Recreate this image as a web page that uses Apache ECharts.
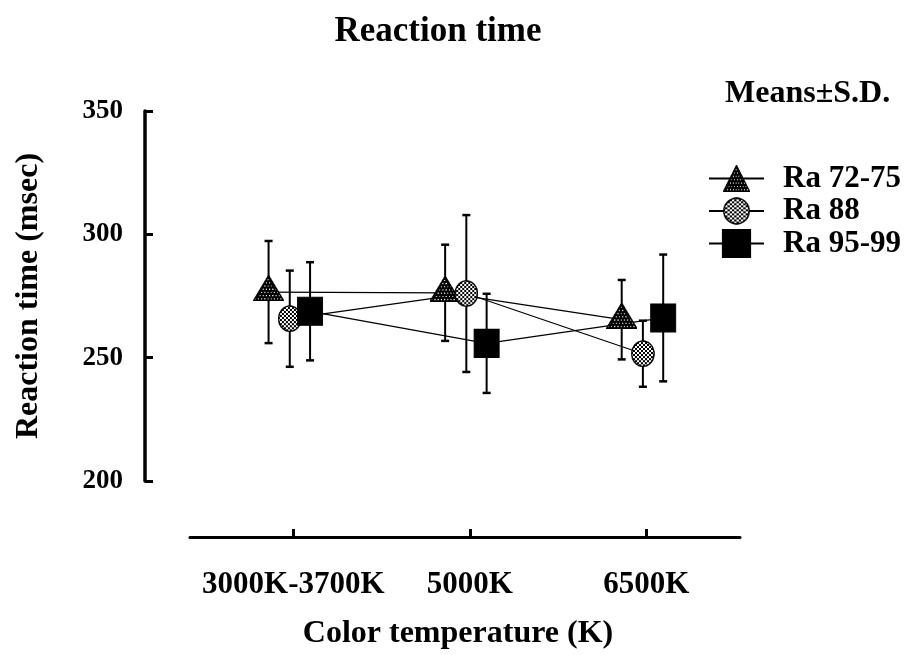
<!DOCTYPE html>
<html>
<head>
<meta charset="utf-8">
<script src="https://cdn.jsdelivr.net/npm/echarts@6/dist/echarts.min.js"></script>
<style>
  html, body { margin: 0; padding: 0; background: #fff; }
  #chart { width: 910px; height: 655px; }
</style>
</head>
<body>
<div id="chart"></div>
<script>
// Colour temperature conditions (x categories)
const categories = ['3000K-3700K', '5000K', '6500K'];
// Reaction time axis ticks (msec)
const yTicks = [200, 250, 300, 350];

// Ra 72-75: means and standard deviations (msec)
const ra72Mean = [276.6, 276.3, 265.4];
const ra72SD   = [20.7, 19.5, 16.1];
// Ra 88
const ra88Mean = [265.8, 276.0, 251.6];
const ra88SD   = [19.5, 31.8, 13.4];
// Ra 95-99
const ra95Mean = [268.8, 255.8, 266.1];
const ra95SD   = [19.9, 20.1, 25.7];

const seriesNames = ['Ra 72-75', 'Ra 88', 'Ra 95-99'];

const SERIF = '"Liberation Serif", "Times New Roman", serif';

// Marker images drawn at pixel size, so the dot screens keep their fine grain
function markerImage(kind, w, h) {
  const s = 3; // supersample for smooth edges
  const c = document.createElement('canvas');
  c.width = w * s; c.height = h * s;
  const g = c.getContext('2d');
  g.scale(s, s);
  const path = () => {
    g.beginPath();
    if (kind === 'triangle') {
      g.moveTo(w / 2, 0.5); g.lineTo(w - 0.5, h - 0.5); g.lineTo(0.5, h - 0.5); g.closePath();
    } else {
      g.ellipse(w / 2, h / 2, w / 2 - 0.8, h / 2 - 0.8, 0, 0, Math.PI * 2);
    }
  };
  g.save();
  path();
  g.clip();
  if (kind === 'triangle') {
    g.fillStyle = '#000'; g.fillRect(0, 0, w, h);
    g.fillStyle = '#fff';
    for (let y = 4; y < h - 1; y += 3.2) {
      for (let x = ((Math.round(y / 3.2) % 2) ? 1.6 : 0); x < w; x += 3.2) g.fillRect(x, y, 1.1, 1.1);
    }
  } else {
    g.fillStyle = '#fff'; g.fillRect(0, 0, w, h);
    g.fillStyle = '#000';
    for (let y = 0; y < h; y += 2) {
      for (let x = (Math.round(y / 2) % 2) ? 2 : 0; x < w; x += 4) g.fillRect(x, y, 2, 2);
    }
  }
  g.restore();
  path();
  g.lineWidth = 1.4; g.strokeStyle = '#000'; g.stroke();
  return 'image://' + c.toDataURL();
}

// Horizontal shift of each group within a category, so the markers don't overlap
const groupShift = [-0.14, -0.02, 0.095];

const groups = [
  { name: seriesNames[0], mean: ra72Mean, sd: ra72SD, symbol: markerImage('triangle', 31, 26), size: [31, 26], offset: [0, -4] },
  { name: seriesNames[1], mean: ra88Mean, sd: ra88SD, symbol: markerImage('circle', 24, 27), size: [24, 27], offset: [0, 0] },
  { name: seriesNames[2], mean: ra95Mean, sd: ra95SD, symbol: 'rect', size: [25, 28], offset: [0, 0] }
];

function errorBars(g, shift) {
  return {
    type: 'custom',
    z: 2,
    silent: true,
    data: g.mean.map((m, i) => [i + shift, m - g.sd[i], m + g.sd[i]]),
    encode: { x: 0, y: [1, 2] },
    renderItem(params, api) {
      const x = api.value(0);
      const lo = api.coord([x, api.value(1)]);
      const hi = api.coord([x, api.value(2)]);
      const w = 4;
      return {
        type: 'group',
        children: [
          { type: 'line', shape: { x1: lo[0], y1: lo[1], x2: hi[0], y2: hi[1] }, style: { stroke: '#000', lineWidth: 2 } },
          { type: 'line', shape: { x1: lo[0] - w, y1: lo[1], x2: lo[0] + w, y2: lo[1] }, style: { stroke: '#000', lineWidth: 2.5 } },
          { type: 'line', shape: { x1: hi[0] - w, y1: hi[1], x2: hi[0] + w, y2: hi[1] }, style: { stroke: '#000', lineWidth: 2.5 } }
        ]
      };
    }
  };
}

const series = [];
groups.forEach((g, k) => {
  series.push(errorBars(g, groupShift[k]));
  series.push({
    type: 'line',
    name: g.name,
    z: 3,
    data: g.mean.map((m, i) => [i + groupShift[k], m]),
    symbol: g.symbol,
    symbolSize: g.size,
    symbolOffset: g.offset,
    showAllSymbol: true,
    lineStyle: { color: '#000', width: 1.2 },
    itemStyle: { color: '#000', borderColor: '#000', borderWidth: 1 },
    emphasis: { disabled: true },
    animation: false
  });
});

const chart = echarts.init(document.getElementById('chart'), null, { renderer: 'canvas' });
chart.setOption({
  animation: false,
  backgroundColor: '#fff',
  title: {
    text: 'Reaction time',
    left: 433,
    textAlign: 'center',
    top: 9,
    textStyle: { fontFamily: SERIF, fontWeight: 'bold', fontSize: 35, color: '#000' }
  },
  grid: { left: 190, right: 170, top: 111, bottom: 171.7, containLabel: false },
  xAxis: {
    type: 'value',
    min: -0.585,
    max: 2.53,
    offset: 56,
    name: 'Color temperature (K)',
    nameLocation: 'middle',
    nameGap: 81,
    nameTextStyle: { fontFamily: SERIF, fontWeight: 'bold', fontSize: 32, color: '#000', padding: [0, 14, 0, 0] },
    axisLine: { show: true, onZero: false, lineStyle: { color: '#000', width: 3 } },
    axisTick: { show: true, inside: true, length: 8, lineStyle: { color: '#000', width: 3 }, customValues: [0, 1, 2] },
    axisLabel: {
      customValues: [0, 1, 2],
      margin: 32,
      formatter: v => categories[Math.round(v)],
      fontFamily: SERIF, fontWeight: 'bold', fontSize: 31, color: '#000'
    },
    splitLine: { show: false }
  },
  yAxis: {
    type: 'value',
    min: yTicks[0],
    max: yTicks[yTicks.length - 1],
    interval: yTicks[1] - yTicks[0],
    offset: 45,
    name: 'Reaction time (msec)',
    nameLocation: 'middle',
    nameGap: 100,
    nameTextStyle: { fontFamily: SERIF, fontWeight: 'bold', fontSize: 32, color: '#000' },
    axisLine: { show: true, onZero: false, lineStyle: { color: '#000', width: 3.5 } },
    axisTick: { show: true, inside: true, length: 8, lineStyle: { color: '#000', width: 3 } },
    axisLabel: { margin: 22, fontFamily: SERIF, fontWeight: 'bold', fontSize: 27, color: '#000' },
    splitLine: { show: false }
  },
  legend: {
    data: seriesNames,
    orient: 'vertical',
    left: 708,
    top: 163,
    padding: 0,
    itemWidth: 55,
    itemHeight: 34,
    itemGap: 1.5,
    selectedMode: false,
    textStyle: { fontFamily: SERIF, fontWeight: 'bold', fontSize: 31, color: '#000', lineHeight: 30, padding: [0, 0, 0, 14] }
  },
  graphic: [{
    type: 'text',
    left: 725,
    top: 78,
    style: { text: 'Means±S.D.', font: 'bold 32px ' + SERIF, fill: '#000' }
  }],
  series
});
</script>
</body>
</html>
